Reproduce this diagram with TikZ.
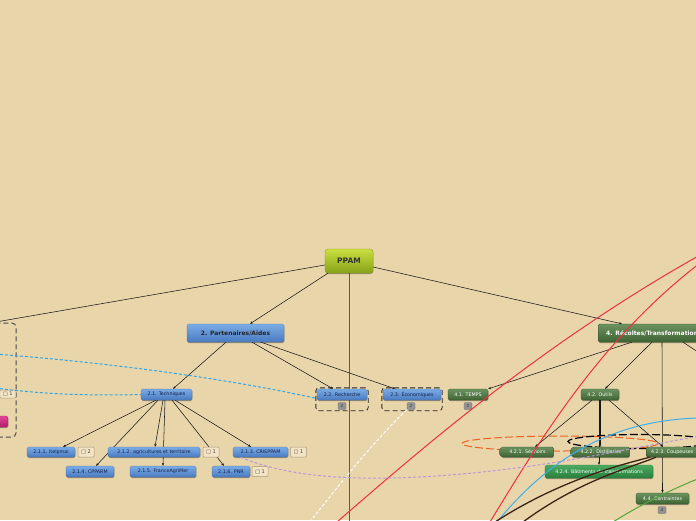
\documentclass[tikz,border=0pt]{standalone}
\usepackage{fontspec}
\setmainfont{DejaVu Sans}
\usetikzlibrary{arrows.meta,shapes.symbols,shadows,backgrounds,fit}
\definecolor{bg}{RGB}{233,213,170}
\definecolor{bT}{RGB}{122,172,230}
\definecolor{bB}{RGB}{74,122,192}
\definecolor{bD}{RGB}{70,110,170}
\definecolor{bTxt}{RGB}{20,32,70}
\definecolor{gT}{RGB}{108,146,96}
\definecolor{gB}{RGB}{62,100,52}
\definecolor{gD}{RGB}{50,80,42}
\definecolor{g2T}{RGB}{76,170,96}
\definecolor{g2B}{RGB}{40,128,62}
\definecolor{pT}{RGB}{202,222,64}
\definecolor{pB}{RGB}{134,162,24}
\definecolor{pkT}{RGB}{226,70,150}
\definecolor{pkB}{RGB}{176,30,104}
\definecolor{redc}{RGB}{240,48,64}
\definecolor{lblue}{RGB}{64,176,236}
\definecolor{dblue}{RGB}{48,166,230}
\definecolor{purp}{RGB}{186,152,216}
\definecolor{oran}{RGB}{240,96,32}
\definecolor{brn}{RGB}{58,36,20}
\definecolor{grn}{RGB}{80,168,56}
\definecolor{vline}{RGB}{100,88,70}
\definecolor{notef}{RGB}{242,228,196}
\definecolor{noted}{RGB}{170,152,120}
\tikzset{
  base/.style={rounded corners=1.5pt, inner sep=0pt, line width=0.3pt,
    font=\fontsize{4.8}{5}\selectfont,
    drop shadow={shadow xshift=0.4pt, shadow yshift=-1pt, opacity=0.35, fill=black}},
  bluebox/.style={base, top color=bT, bottom color=bB, draw=bD, text=bTxt},
  greenbox/.style={base, top color=gT, bottom color=gB, draw=gD, text=white},
  brightbox/.style={base, top color=g2T, bottom color=g2B, draw=g2B, text=white},
  sigbox/.style={greenbox, shape=signal, signal to=west, signal pointer angle=120},
  rootbox/.style={base, rounded corners=3pt, top color=pT, bottom color=pB, draw=pB, text=black!80,
    font=\fontsize{7.5}{8}\selectfont\bfseries, minimum width=48pt, minimum height=24pt},
  badge/.style={rounded corners=1pt, fill=black!42, draw=black!60, line width=0.3pt, text=black!80,
    inner sep=0pt, minimum width=8pt, minimum height=7pt, font=\fontsize{4.3}{4.5}\selectfont},
  note/.style={rounded corners=1pt, fill=notef, draw=noted, line width=0.5pt, text=black!75,
    inner sep=0pt, minimum width=16pt, minimum height=10pt, font=\fontsize{5}{5}\selectfont},
  edge/.style={line width=0.55pt, black!90, -{Stealth[length=3pt,width=2.4pt]}},
  plainedge/.style={line width=0.55pt, black!90},
  boundary/.style={draw=black!85, line width=0.8pt, dash pattern=on 5pt off 3pt, rounded corners=3pt, inner sep=1pt},
}
\begin{document}
\begin{tikzpicture}[x=1pt,y=-1pt]
\clip (0,0) rectangle (696,520);
\begin{scope}[on background layer]
\fill[bg] (0,0) rectangle (696,520);
\end{scope}

% left boundary (partially visible)
\draw[draw=black!70, line width=1pt, dash pattern=on 5pt off 3pt, rounded corners=4pt] (-30,323) rectangle (16,437);

% nodes
\node[rootbox] (ppam) at (349,261) {PPAM};
\node[bluebox, font=\fontsize{6}{7}\selectfont\bfseries, minimum width=97pt, minimum height=18pt, text=black!85] (n2) at (235.5,333) {2. Partenaires/Aides};
\node[greenbox, font=\fontsize{6}{7}\selectfont\bfseries, anchor=west, inner xsep=8pt, minimum height=18pt] (n4) at (598,333) {4. Récoltes/Transformations};

\node[bluebox, minimum width=51pt, minimum height=11pt] (n21) at (166.5,394.5) {2.1. Techniques};
\node[bluebox, minimum width=50pt, minimum height=11pt] (n22) at (342,394.5) {2.2. Recherche};
\node[bluebox, minimum width=58pt, minimum height=11pt] (n23) at (412,394.5) {2.3. Économiques};
\node[greenbox, minimum width=40pt, minimum height=11pt] (n41) at (468,394.5) {4.1. TEMPS};
\node[greenbox, minimum width=38pt, minimum height=11pt] (n42) at (600,394.5) {4.2. Outils};

\node[badge] (b22) at (342,406) {2};
\node[badge] (b23) at (411,406) {2};
\node[badge] (b41) at (468,406) {2};

\node[boundary, fit=(n22)(b22)] (f22) {};
\node[boundary, fit=(n23)(b23)] (f23) {};

\node[bluebox, minimum width=48pt, minimum height=10pt] (n211) at (51,452) {2.1.1. itelpmai};
\node[bluebox, minimum width=92pt, minimum height=10pt] (n212) at (154,452) {2.1.2. agricultures et territoire};
\node[bluebox, minimum width=55pt, minimum height=10pt] (n213) at (260.5,452) {2.1.3. CRIEPPAM};
\node[bluebox, minimum width=48pt, minimum height=11pt] (n214) at (90,471.5) {2.1.4. CPPARM};
\node[bluebox, minimum width=66pt, minimum height=11pt] (n215) at (163,471.5) {2.1.5. FranceAgriMer};
\node[bluebox, minimum width=38pt, minimum height=11pt] (n216) at (231,471.5) {2.1.6. PNR};

\node[note] (m211) at (86,452) {□ 2};
\node[note] (m212) at (211,452) {□ 1};
\node[note] (m213) at (298.5,452) {□ 1};
\node[note] (m216) at (260,471.5) {□ 1};
\node[note, anchor=east, minimum height=8pt] (m1) at (16,394) {□ 1};

\node[base, top color=pkT, bottom color=pkB, draw=pkB, anchor=east, minimum width=30pt, minimum height=11pt] (pk) at (8,421.5) {};

\node[sigbox, minimum width=55pt, minimum height=10pt] (n421) at (527.5,452) {4.2.1. Séchoirs};
\node[sigbox, minimum width=60pt, minimum height=10pt] (n422) at (601,452) {4.2.2. Distilleries};
\node[greenbox, anchor=west, inner xsep=5pt, minimum height=10pt] (n423) at (646,452) {4.2.3. Coupeuses};
\node[brightbox, minimum width=108pt, minimum height=13pt] (n424) at (599,471.5) {4.2.4. Bâtiments de transformations};
\node[greenbox, minimum width=53pt, minimum height=11pt] (n44) at (662.5,498.5) {4.4. Contraintes};
\node[badge] (b44) at (662,510) {3};

% off-picture ends
\coordinate (c1) at (-10,323);
\coordinate (c3) at (349,530);
\coordinate (c5) at (710,360);

% connectors (behind the nodes)
\begin{scope}[on background layer]
\draw[plainedge] ([yshift=-4pt]ppam.west) -- (c1);
\draw[line width=0.9pt, vline] (ppam.south) -- (c3);
\draw[edge] ([xshift=-21pt]ppam.south) -- ([xshift=14.5pt]n2.north);
\draw[edge] ([yshift=-6pt]ppam.east) -- ([xshift=24pt]n4.north west);

\draw[edge] ([xshift=-9.5pt]n2.south) -- ([xshift=6.5pt]n21.north);
\draw[edge] ([xshift=16.5pt]n2.south) -- ([xshift=-9pt]n22.north);
\draw[edge] ([xshift=22.5pt,yshift=1pt]n2.south) -- ([xshift=-17pt]n23.north);

\draw[edge] ([xshift=34pt]n4.south west) -- (n41.north east);
\draw[edge] ([xshift=54pt]n4.south west) -- ([xshift=5pt]n42.north);
\draw[edge] ([xshift=64pt]n4.south west) -- (n44.north);
\draw[plainedge] ([xshift=85pt]n4.south west) -- (c5);

\draw[edge] ([xshift=-10.5pt]n21.south) -- ([xshift=12pt]n211.north);
\draw[edge] ([xshift=-3.5pt]n21.south) -- ([xshift=1pt]n212.north);
\draw[edge] ([xshift=8.5pt]n21.south) -- ([xshift=-9.5pt]n213.north);
\draw[edge] ([xshift=-8.5pt]n21.south) -- ([xshift=6pt]n214.north);
\draw[edge] ([xshift=-1.5pt]n21.south) -- (n215.north);
\draw[edge] ([xshift=5.5pt]n21.south) -- ([xshift=-7pt]n216.north);

\draw[edge] ([xshift=-8pt]n42.south) -- ([xshift=7.5pt]n421.north);
\draw[edge, line width=0.8pt] (n42.south) -- ([xshift=-1pt]n422.north);
\draw[edge] ([xshift=-1pt]n42.south) -- (n424.north);
\draw[edge] ([xshift=9pt]n42.south) -- ([xshift=17pt]n423.north west);

% boundary ellipses (behind the nodes)
\draw[oran, line width=1pt, dash pattern=on 8pt off 3pt] (560,443.5) ellipse [x radius=98, y radius=7.5];
\draw[black, line width=1.2pt, dash pattern=on 8pt off 3pt] (640,441.5) ellipse [x radius=72, y radius=7];
\end{scope}

% relationship curves
\coordinate (ra0) at (337,522);
\coordinate (ra1) at (700,255);
\draw[redc, line width=1pt] (ra0) .. controls (420,450) and (540,345) .. (ra1);
\coordinate (rb0) at (490,522);
\coordinate (rb1) at (700,263);
\draw[redc, line width=1pt] (rb0) .. controls (540,440) and (600,340) .. (rb1);

\coordinate (w0) at (310,522);
\draw[white, line width=1pt, dash pattern=on 3pt off 2pt] (w0) .. controls (350,470) and (385,430) .. ([xshift=-4pt]b23.south);

\coordinate (d1) at (-5,354);
\draw[dblue, line width=1pt, dash pattern=on 3pt off 2pt] (d1) .. controls (100,362) and (220,377) .. ([yshift=-4pt]n22.west);
\coordinate (d2) at (-5,388);
\draw[dblue, line width=1pt, dash pattern=on 3pt off 2pt] (d2) .. controls (40,394) and (90,396) .. (n21.west);

\coordinate (lb0) at (497,522);
\coordinate (lb1) at (700,418);
\draw[lblue, line width=1pt] (lb0) .. controls (540,470) and (600,420) .. (lb1);

\coordinate (pu1) at (450,475);
\coordinate (pu2) at (700,436);
\draw[purp, line width=1pt, dash pattern=on 3pt off 2pt] ([xshift=-20pt]n213.south) .. controls (290,478) and (360,482) .. (pu1) .. controls (550,467) and (620,450) .. (pu2);

\coordinate (br0) at (495,522);
\coordinate (br1) at (523,522);
\draw[brn, line width=1.3pt] (br0) .. controls (560,480) and (620,465) .. ([xshift=4pt]n423.south west);
\draw[brn, line width=1.3pt] (br1) .. controls (580,480) and (630,468) .. ([xshift=10pt]n423.south west);

\coordinate (gr0) at (613,522);
\coordinate (gr1) at (700,478);
\draw[grn, line width=1pt] (gr0) .. controls (640,505) and (670,490) .. (gr1);
\end{tikzpicture}
\end{document}
